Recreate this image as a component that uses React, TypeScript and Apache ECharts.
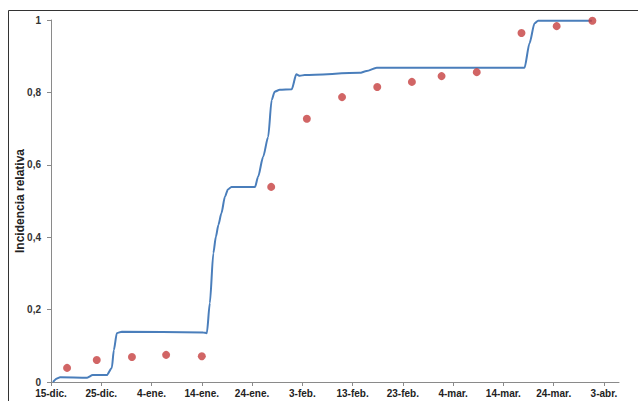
import React, { useEffect, useRef } from "react";
import * as echarts from "echarts";

// Days since 15-dic.
const xTickDays = [0, 10, 20, 30, 40, 50, 60, 70, 80, 90, 100, 110];
const xTickLabels = ["15-dic.", "25-dic.", "4-ene.", "14-ene.", "24-ene.", "3-feb.", "13-feb.", "23-feb.", "4-mar.", "14-mar.", "24-mar.", "3-abr."];

const lineDays = [0.4, 1.2, 1.8, 7.2, 8.3, 11.1, 12.1, 12.5, 13.1, 14.1, 30.3, 31.0, 31.6, 32.3, 32.8, 33.3, 33.9, 34.6, 35.2, 35.9, 40.6, 41.2, 42.2, 43.2, 43.9, 44.5, 45.5, 47.9, 48.8, 49.5, 50.5, 61.4, 62.8, 64.8, 94.2, 95.2, 96.2, 96.9, 107.6];
const lineValues = [0, 0.010, 0.013, 0.012, 0.019, 0.019, 0.039, 0.088, 0.135, 0.139, 0.137, 0.135, 0.218, 0.356, 0.401, 0.434, 0.466, 0.512, 0.532, 0.539, 0.539, 0.567, 0.622, 0.677, 0.779, 0.802, 0.807, 0.809, 0.850, 0.846, 0.848, 0.854, 0.859, 0.868, 0.868, 0.936, 0.991, 0.998, 0.998];

const dotDays = [3.2, 9.1, 16.1, 22.9, 30.0, 43.8, 50.9, 57.9, 64.9, 71.8, 77.7, 84.7, 93.6, 100.6, 107.7];
const dotValues = [0.039, 0.061, 0.069, 0.075, 0.071, 0.539, 0.727, 0.787, 0.815, 0.829, 0.845, 0.856, 0.964, 0.983, 0.998];

const FONT = "'Liberation Sans', Arial, sans-serif";

export default function App() {
  const ref = useRef<HTMLDivElement>(null);
  useEffect(() => {
    if (!ref.current) return;
    const chart = echarts.init(ref.current, undefined, { renderer: "svg" });
    chart.setOption({
      animation: false,
      backgroundColor: "#ffffff",
      grid: { left: 51, right: 19, top: 20, bottom: 19, containLabel: false, outerBoundsMode: "none" },
      graphic: [
        { type: "line", shape: { x1: 8.5, y1: 10.5, x2: 638, y2: 10.5 }, style: { stroke: "#333", lineWidth: 1 } },
        { type: "line", shape: { x1: 8.5, y1: 10.5, x2: 8.5, y2: 401 }, style: { stroke: "#333", lineWidth: 1 } },
      ],
      xAxis: {
        type: "value",
        min: 0,
        max: 113,
        axisLine: { show: true, onZero: false, lineStyle: { color: "#8a8a8a", width: 1 } },
        axisTick: { show: true, length: 4, customValues: xTickDays, lineStyle: { color: "#8a8a8a" } },
        splitLine: { show: false },
        axisLabel: {
          customValues: xTickDays,
          margin: 6,
          color: "#222",
          fontWeight: "bold",
          fontSize: 10,
          fontFamily: FONT,
          formatter: (v: number) => xTickLabels[Math.round(v / 10)] ?? "",
        },
      },
      yAxis: {
        type: "value",
        min: 0,
        max: 1,
        interval: 0.2,
        name: "Incidencia relativa",
        nameLocation: "middle",
        nameGap: 25,
        nameMoveOverlap: false,
        nameTextStyle: { fontWeight: "bold", fontSize: 12, color: "#222", fontFamily: FONT },
        axisLine: { show: true, lineStyle: { color: "#8a8a8a", width: 1 } },
        axisTick: { show: true, length: 4, lineStyle: { color: "#8a8a8a" } },
        splitLine: { show: false },
        axisLabel: {
          margin: 10,
          color: "#333",
          fontWeight: "bold",
          fontSize: 10,
          fontFamily: FONT,
          formatter: (v: number) => String(Math.round(v * 10) / 10).replace(".", ","),
        },
      },
      series: [
        {
          type: "line",
          data: lineDays.map((d, i) => [d, lineValues[i]]),
          showSymbol: false,
          smooth: 0.25,
          smoothMonotone: "x",
          lineStyle: { color: "#4a7ebb", width: 2 },
          z: 2,
        },
        {
          type: "scatter",
          data: dotDays.map((d, i) => [d, dotValues[i]]),
          symbolSize: 8,
          itemStyle: { color: "#c53f3f" },
          z: 3,
        },
      ],
    });
    return () => chart.dispose();
  }, []);
  return <div ref={ref} style={{ position: "fixed", left: 0, top: 0, width: 638, height: 401 }} />;
}
